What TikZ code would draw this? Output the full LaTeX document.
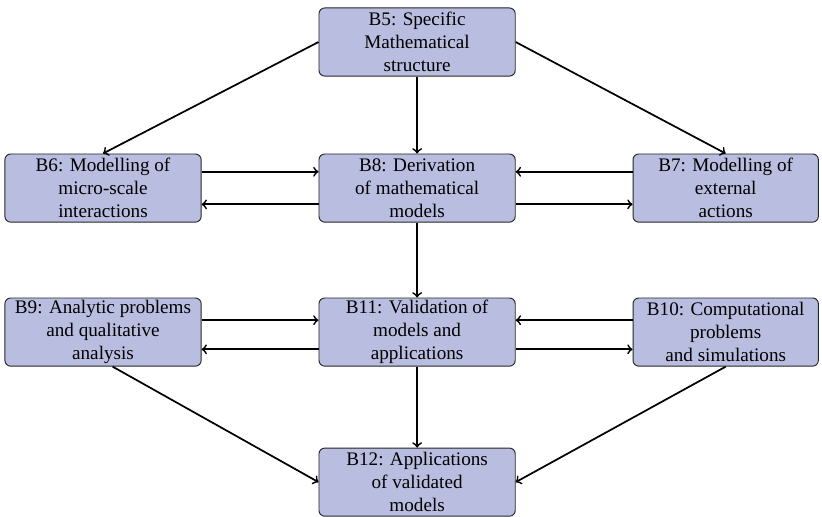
\documentclass[tikz,border=0pt]{standalone}
\usepackage{fontspec}
\setmainfont{Liberation Serif}
\definecolor{boxfill}{RGB}{185,189,224}
\tikzset{
  block/.style={draw=black!85, line width=0.5pt, rounded corners=3pt, fill=boxfill,
    minimum width=3.6cm, minimum height=1.25cm, align=center, inner sep=1pt,
    font=\fontsize{10}{12}\selectfont},
  narrow/.style={minimum width=3.4cm},
  link/.style={->, line width=0.9pt}
}
\begin{document}
\begin{tikzpicture}[scale=1]

\useasboundingbox (0,0) rectangle (15.08,-9.47);

% top
\node[block] (b5) at (7.652,-0.771) {B5: Specific\\Mathematical\\structure};

% second row
\node[block] (b6) at (1.890,-3.450) {B6: Modelling of\\micro-scale\\interactions};
\node[block] (b8) at (7.652,-3.450) {B8: Derivation\\of mathematical\\models};
\node[block,narrow] (b7) at (13.313,-3.450) {B7: Modelling of\\external\\actions};

% third row
\node[block] (b9) at (1.890,-6.092) {B9: Analytic problems\\and qualitative\\analysis};
\node[block] (b11) at (7.652,-6.092) {B11: Validation of\\models and\\applications};
\node[block,narrow] (b10) at (13.313,-6.092) {B10: Computational\\problems\\and simulations};

% bottom
\node[block] (b12) at (7.652,-8.845) {B12: Applications\\of validated\\models};

\draw [link] (b5.west) -- (b6.north);
\draw [link] (b5.south) -- (b8.north);
\draw [link] (b5.east) -- (b7.north);

\draw [link] ([yshift=8.5pt]b6.east) -- ([yshift=8.5pt]b8.west);
\draw [link] ([yshift=-8.5pt]b8.west) -- ([yshift=-8.5pt]b6.east);
\draw [link] ([yshift=8.5pt]b7.west) -- ([yshift=8.5pt]b8.east);
\draw [link] ([yshift=-8.5pt]b8.east) -- ([yshift=-8.5pt]b7.west);

\draw [link] (b8.south) -- (b11.north);

\draw [link] ([yshift=6.2pt]b9.east) -- ([yshift=6.2pt]b11.west);
\draw [link] ([yshift=-9pt]b11.west) -- ([yshift=-9pt]b9.east);
\draw [link] ([yshift=6.2pt]b10.west) -- ([yshift=6.2pt]b11.east);
\draw [link] ([yshift=-9pt]b11.east) -- ([yshift=-9pt]b10.west);

\draw [link] (b11.south) -- (b12.north);
\draw [link] ([xshift=5pt]b9.south) -- (b12.west);
\draw [link] (b10.south) -- (b12.east);

\end{tikzpicture}
\end{document}
